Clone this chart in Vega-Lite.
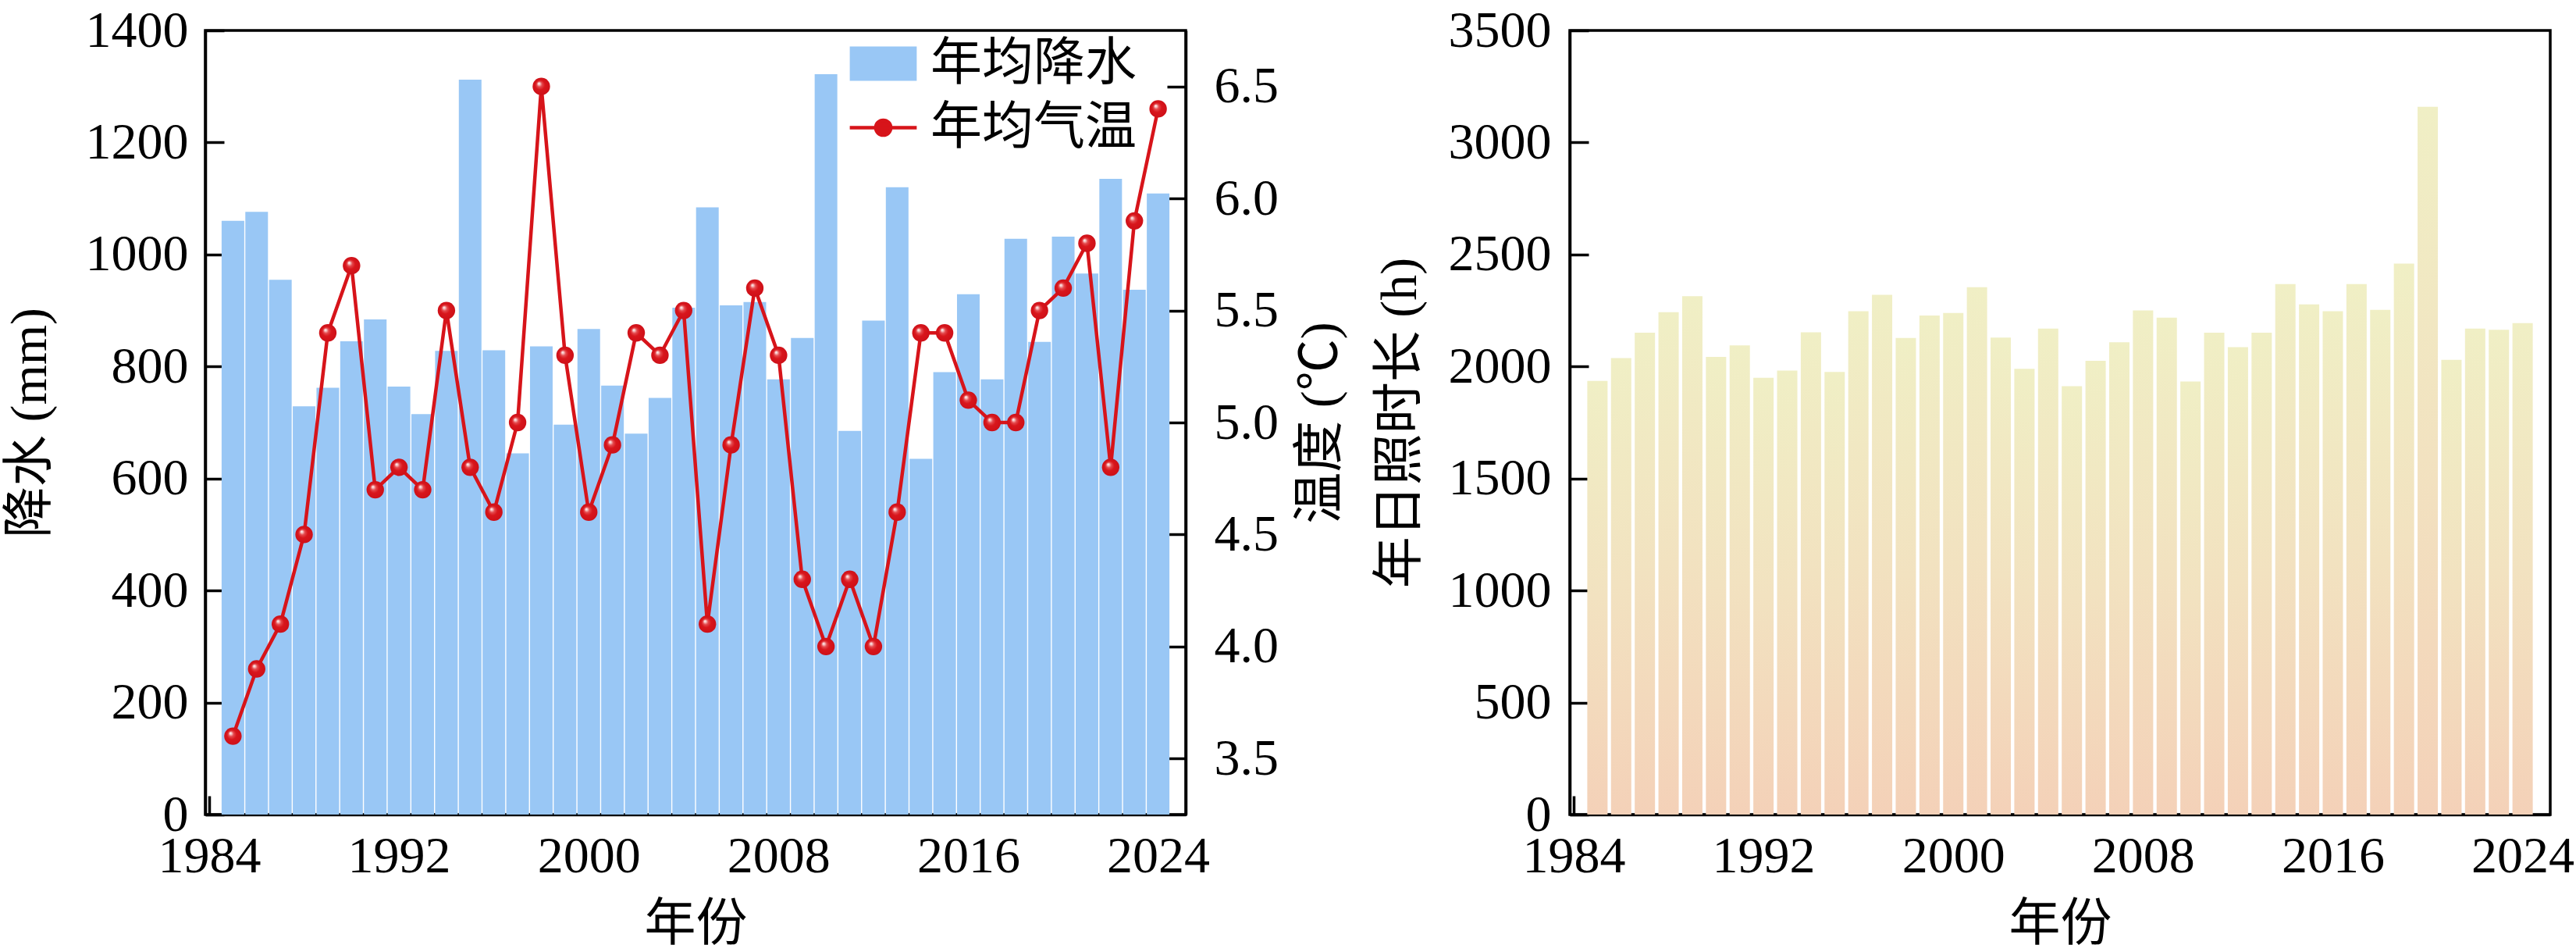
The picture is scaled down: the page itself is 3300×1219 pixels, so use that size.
{
  "$schema": "https://vega.github.io/schema/vega-lite/v6.json",
  "padding": {"left": 3, "top": 4, "right": 0, "bottom": 0},
  "background": "white",
  "datasets": {
    "climate": [
      {"year": 1985, "precip": 1060, "temp": 3.6, "sun": 1936},
      {"year": 1986, "precip": 1076, "temp": 3.9, "sun": 2038},
      {"year": 1987, "precip": 955, "temp": 4.1, "sun": 2151},
      {"year": 1988, "precip": 729, "temp": 4.5, "sun": 2242},
      {"year": 1989, "precip": 762, "temp": 5.4, "sun": 2314},
      {"year": 1990, "precip": 845, "temp": 5.7, "sun": 2043},
      {"year": 1991, "precip": 884, "temp": 4.7, "sun": 2094},
      {"year": 1992, "precip": 764, "temp": 4.8, "sun": 1950},
      {"year": 1993, "precip": 715, "temp": 4.7, "sun": 1982},
      {"year": 1994, "precip": 828, "temp": 5.5, "sun": 2153},
      {"year": 1995, "precip": 1312, "temp": 4.8, "sun": 1976},
      {"year": 1996, "precip": 829, "temp": 4.6, "sun": 2247},
      {"year": 1997, "precip": 645, "temp": 5.0, "sun": 2320},
      {"year": 1998, "precip": 836, "temp": 6.5, "sun": 2127},
      {"year": 1999, "precip": 696, "temp": 5.3, "sun": 2228},
      {"year": 2000, "precip": 867, "temp": 4.6, "sun": 2239},
      {"year": 2001, "precip": 766, "temp": 4.9, "sun": 2354},
      {"year": 2002, "precip": 680, "temp": 5.4, "sun": 2129},
      {"year": 2003, "precip": 744, "temp": 5.3, "sun": 1990},
      {"year": 2004, "precip": 905, "temp": 5.5, "sun": 2169},
      {"year": 2005, "precip": 1084, "temp": 4.1, "sun": 1912},
      {"year": 2006, "precip": 909, "temp": 4.9, "sun": 2025},
      {"year": 2007, "precip": 915, "temp": 5.6, "sun": 2108},
      {"year": 2008, "precip": 777, "temp": 5.3, "sun": 2250},
      {"year": 2009, "precip": 851, "temp": 4.3, "sun": 2218},
      {"year": 2010, "precip": 1322, "temp": 4.0, "sun": 1933},
      {"year": 2011, "precip": 685, "temp": 4.3, "sun": 2151},
      {"year": 2012, "precip": 882, "temp": 4.0, "sun": 2086},
      {"year": 2013, "precip": 1120, "temp": 4.6, "sun": 2151},
      {"year": 2014, "precip": 635, "temp": 5.4, "sun": 2368},
      {"year": 2015, "precip": 790, "temp": 5.4, "sun": 2277},
      {"year": 2016, "precip": 929, "temp": 5.1, "sun": 2247},
      {"year": 2017, "precip": 777, "temp": 5.0, "sun": 2368},
      {"year": 2018, "precip": 1028, "temp": 5.0, "sun": 2253},
      {"year": 2019, "precip": 844, "temp": 5.5, "sun": 2459},
      {"year": 2020, "precip": 1032, "temp": 5.6, "sun": 3159},
      {"year": 2021, "precip": 966, "temp": 5.8, "sun": 2030},
      {"year": 2022, "precip": 1135, "temp": 4.8, "sun": 2169},
      {"year": 2023, "precip": 937, "temp": 5.9, "sun": 2164},
      {"year": 2024, "precip": 1109, "temp": 6.4, "sun": 2194}
    ]
  },
  "data": {"name": "climate"},
  "spacing": 31,
  "hconcat": [
    {
      "width": 1256,
      "height": 1004,
      "encoding": {
        "x": {
          "field": "year",
          "type": "quantitative",
          "title": "年份",
          "scale": {"domain": [1984, 2025], "nice": false, "zero": false},
          "axis": {"values": [1984, 1992, 2000, 2008, 2016, 2024], "format": "d"}
        }
      },
      "layer": [
        {
          "mark": {"type": "bar", "width": 29, "color": "#99C7F5"},
          "encoding": {
            "y": {
              "field": "precip",
              "type": "quantitative",
              "title": "降水 (mm)",
              "scale": {"domain": [0, 1400], "nice": false},
              "axis": {"values": [0, 200, 400, 600, 800, 1000, 1200, 1400], "format": "d", "orient": "left", "labelPadding": 46, "titlePadding": 37}
            },
            "color": {
              "datum": "年均降水",
              "type": "nominal",
              "scale": {"domain": ["年均降水", "年均气温"], "range": ["#99C7F5", "#D7141A"]},
              "legend": {
                "title": null,
                "orient": "none",
                "legendX": 834,
                "legendY": 8,
                "padding": 0,
                "symbolSize": 4096,
                "labelFontSize": 66,
                "labelFont": "Liberation Serif, Noto Sans CJK SC",
                "labelColor": "black",
                "labelOffset": 26,
                "labelLimit": 0,
                "rowPadding": 14,
                "encode": {
                  "symbols": {
                    "update": {
                      "shape": {"signal": "datum.value === '年均降水' ? 'M-1.34,-0.69H1.34V0.69H-1.34Z' : 'M-1.34,0H1.34M-0.3,0A0.3,0.3 0 1,1 0.3,0A0.3,0.3 0 1,1 -0.3,0Z'"},
                      "stroke": {"signal": "datum.value === '年均降水' ? 'transparent' : '#D7141A'"},
                      "strokeWidth": {"value": 4.5},
                      "opacity": {"value": 1}
                    }
                  }
                }
              }
            }
          }
        },
        {
          "encoding": {
            "y": {
              "field": "temp",
              "type": "quantitative",
              "title": "温度 (℃)",
              "scale": {"domain": [3.25, 6.75], "nice": false, "zero": false},
              "axis": {
                "orient": "right",
                "values": [3.5, 4, 4.5, 5, 5.5, 6, 6.5],
                "format": ".1f",
                "labelPadding": 60,
                "titlePadding": 22,
                "titleAngle": 270,
                "titleBaseline": "top"
              }
            }
          },
          "layer": [
            {"mark": {"type": "line", "color": "#D7141A", "strokeWidth": 4.5}},
            {
              "mark": {
                "type": "point",
                "filled": true,
                "size": 500,
                "opacity": 1,
                "fill": {
                  "gradient": "radial",
                  "x1": 0.35, "y1": 0.32, "r1": 0,
                  "x2": 0.5, "y2": 0.5, "r2": 0.5,
                  "stops": [
                    {"offset": 0, "color": "#ffffff"},
                    {"offset": 0.12, "color": "#F8C8C8"},
                    {"offset": 0.3, "color": "#E44A4E"},
                    {"offset": 0.55, "color": "#D8161C"},
                    {"offset": 1, "color": "#CE1018"}
                  ]
                }
              }
            }
          ]
        }
      ],
      "resolve": {"scale": {"y": "independent"}}
    },
    {
      "width": 1256,
      "height": 1004,
      "mark": {
        "type": "bar",
        "width": 26,
        "color": {
          "gradient": "linear",
          "x1": 0, "y1": 0, "x2": 0, "y2": 1,
          "stops": [
            {"offset": 0, "color": "#F0EFC5"},
            {"offset": 0.5, "color": "#F2E2C0"},
            {"offset": 1, "color": "#F4D1B8"}
          ]
        }
      },
      "encoding": {
        "x": {
          "field": "year",
          "type": "quantitative",
          "title": "年份",
          "scale": {"domain": [1984, 2025], "nice": false, "zero": false},
          "axis": {"values": [1984, 1992, 2000, 2008, 2016, 2024], "format": "d"}
        },
        "y": {
          "field": "sun",
          "type": "quantitative",
          "title": "年日照时长 (h)",
          "scale": {"domain": [0, 3500], "nice": false},
          "axis": {"values": [0, 500, 1000, 1500, 2000, 2500, 3000, 3500], "format": "d", "labelPadding": 48, "titlePadding": 28}
        }
      }
    }
  ],
  "config": {
    "font": "Liberation Serif, Noto Sans CJK SC",
    "view": {"stroke": "black", "strokeWidth": 3.5},
    "axis": {
      "grid": false,
      "domainColor": "black",
      "domainWidth": 3.5,
      "tickColor": "black",
      "tickWidth": 3.5,
      "tickSize": -24,
      "labelFont": "Liberation Serif",
      "labelFontSize": 66,
      "labelColor": "black",
      "labelFlush": false,
      "labelOverlap": false,
      "titleFont": "Liberation Serif, Noto Sans CJK SC",
      "titleFontSize": 66,
      "titleFontWeight": "normal",
      "titleColor": "black"
    },
    "axisX": {"labelPadding": 45, "titlePadding": 22}
  }
}
